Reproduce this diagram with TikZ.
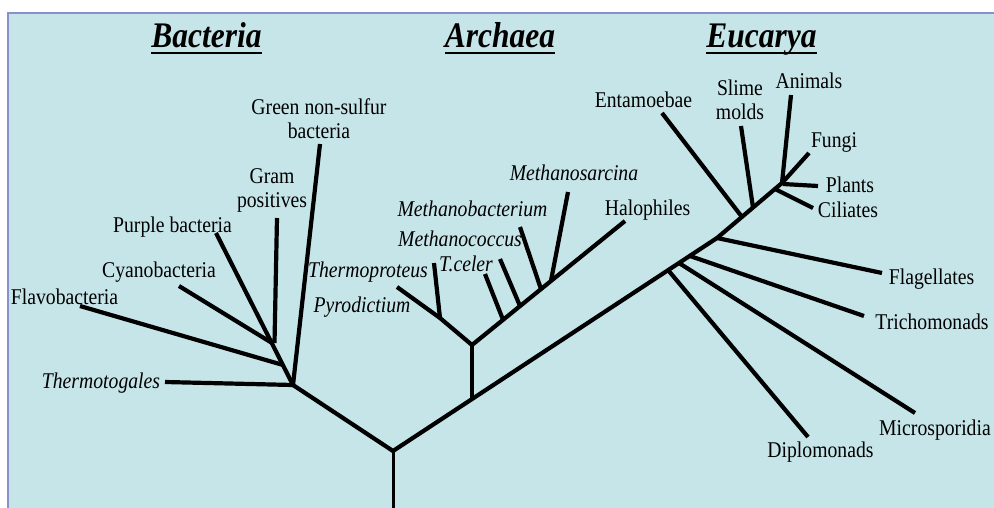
\documentclass[tikz,border=0pt]{standalone}
\usepackage{fontspec}
\setmainfont{Liberation Serif}[FakeStretch=0.875]
\usetikzlibrary{calc}
\definecolor{bgc}{HTML}{C6E5E9}
\definecolor{brd}{HTML}{8A90CC}
\begin{document}
\begin{tikzpicture}[x=1pt,y=-1pt,
  br/.style={line width=4.2pt},
  stem/.style={line width=3pt},
  lab/.style={font=\fontsize{22.5}{24}\selectfont, inner sep=0pt, anchor=base},
  itlab/.style={font=\fontsize{22.5}{24}\selectfont\itshape, inner sep=0pt, anchor=base},
  mlab/.style={font=\fontsize{22.5}{24}\selectfont, inner sep=0pt, anchor=north, align=center},
  head/.style={font=\fontsize{36}{40}\selectfont\bfseries\itshape, inner sep=0pt, anchor=base},
  uline/.style={line width=2pt}]
\useasboundingbox (0,0) rectangle (994,508);
\fill[bgc] (8,13) rectangle (994,508);
\draw[brd, line width=2pt] (8,508) -- (8,13) -- (994,13);

% headings
\node[head] (hb) at (206.5,48) {Bacteria};
\node[head] (ha) at (500,48) {Archaea};
\node[head] (he) at (761.5,48) {Eucarya};
\foreach \h in {hb,ha,he}
  \draw[uline] ([yshift=-5.5pt]\h.base west) -- ([yshift=-5.5pt]\h.base east);

% root and main axis
\coordinate (r0) at (393,508);
\coordinate (r) at (393,451);
\coordinate (b) at (293,385);
\coordinate (ae) at (472,399);
\coordinate (ef) at (717,238);
\coordinate (k) at (782,183);
\coordinate (fu) at (809,153);
\draw[stem] (r0) -- (r);
\draw[br] (b) -- (r) -- (ef) -- (k) -- (fu);

% Bacteria
\coordinate (bf) at (283,365);
\coordinate (bc) at (272,343);
\coordinate (bg) at (274.5,343);
\coordinate (th) at (165,382);
\coordinate (fl) at (80,306);
\coordinate (cy) at (179,286);
\coordinate (pu) at (216,233);
\coordinate (gp) at (277,218);
\coordinate (gn) at (320,144);
\draw[br] (pu) -- (b);
\draw[br] (gn) -- (b);
\draw[br] (th) -- (b);
\draw[br] (fl) -- (bf);
\draw[br] (cy) -- (bc);
\draw[br] (gp) -- (bg);

% Archaea
\coordinate (a) at (472,345);
\coordinate (c) at (440,318);
\coordinate (py) at (397,287);
\coordinate (tp) at (434,263);
\coordinate (hal) at (625,221);
\coordinate (tc) at (485,274);
\coordinate (mc) at (500,259);
\coordinate (mb) at (520,227);
\coordinate (ms) at (568,192);
\draw[br] (ae) -- (a);
\draw[br] (py) -- (c) -- (a) -- (hal);
\draw[br] (tp) -- (c);
\draw[br] ($(a)!0.203!(hal)$) -- (tc);
\draw[br] ($(a)!0.314!(hal)$) -- (mc);
\draw[br] ($(a)!0.451!(hal)$) -- (mb);
\draw[br] ($(a)!0.516!(hal)$) -- (ms);

% Eucarya
\coordinate (jd) at (668,270);
\coordinate (jm) at (679,263);
\coordinate (jt) at (690,256);
\coordinate (je) at (742,217);
\coordinate (js) at (753,207.5);
\coordinate (jp) at (783,184);
\coordinate (jc) at (775,189);
\coordinate (di) at (808,437);
\coordinate (mi) at (915,413);
\coordinate (tr) at (864,316);
\coordinate (fg) at (882,273);
\coordinate (en) at (662,113);
\coordinate (sl) at (741,126);
\coordinate (an) at (791,95);
\coordinate (pl) at (818,186);
\coordinate (ci) at (813,208);
\draw[br] (jd) -- (di);
\draw[br] (jm) -- (mi);
\draw[br] (jt) -- (tr);
\draw[br] (ef) -- (fg);
\draw[br] (je) -- (en);
\draw[br] (js) -- (sl);
\draw[br] (k) -- (an);
\draw[br] (jp) -- (pl);
\draw[br] (jc) -- (ci);

% labels
\node[mlab] (lgn) at (319,98) {Green non-sulfur\\bacteria};
\node[mlab] (lgp) at (272,168) {Gram\\positives};
\node[lab] (lpu) at (172.5,233) {Purple bacteria};
\node[lab] (lcy) at (159,277) {Cyanobacteria};
\node[lab] (lfl) at (64.5,304) {Flavobacteria};
\node[itlab] (lth) at (101,388) {Thermotogales};
\node[itlab] (ltp) at (368,277) {Thermoproteus};
\node[itlab] (lpy) at (362,312) {Pyrodictium};
\node[itlab] (ltc) at (466,271) {T.celer};
\node[itlab] (lmc) at (460,247) {Methanococcus};
\node[itlab] (lmb) at (472.5,217) {Methanobacterium};
\node[itlab] (lms) at (574,181) {Methanosarcina};
\node[lab] (lha) at (647.5,215) {Halophiles};
\node[lab] (len) at (643.5,108) {Entamoebae};
\node[mlab] (lsl) at (740,80) {Slime\\molds};
\node[lab] (lan) at (809,89) {Animals};
\node[lab] (lfu) at (834,148) {Fungi};
\node[lab] (lpl) at (850,193) {Plants};
\node[lab] (lci) at (848,218) {Ciliates};
\node[lab] (lfg) at (931.5,284) {Flagellates};
\node[lab] (ltr) at (932,329) {Trichomonads};
\node[lab] (lmi) at (935,435) {Microsporidia};
\node[lab] (ldi) at (820.5,457) {Diplomonads};
\end{tikzpicture}
\end{document}
